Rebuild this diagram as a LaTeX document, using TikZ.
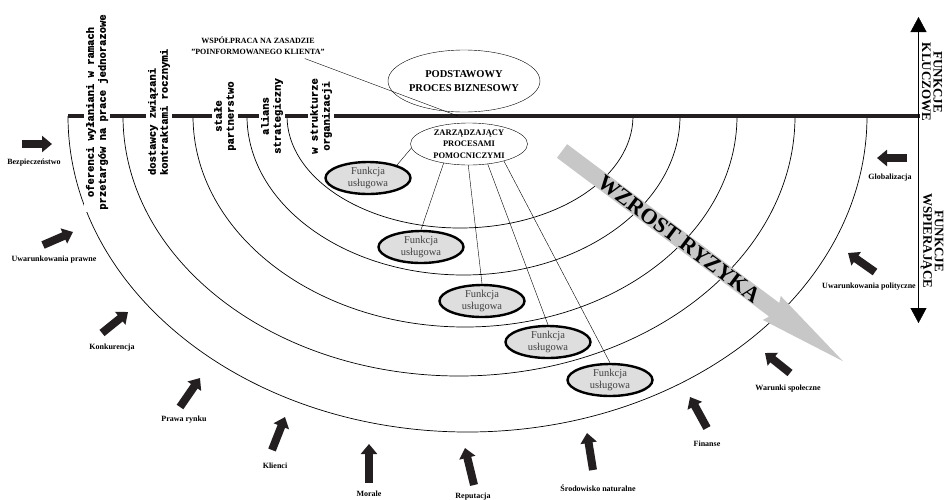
\documentclass[tikz,border=0pt]{standalone}
\usepackage{fontspec}
\setmainfont{Liberation Serif}
\newfontfamily\slabfont{Liberation Mono}[BoldFont={Liberation Mono Bold},BoldFeatures={FakeBold=1.2}]
\usepackage{tikz}
\usetikzlibrary{shapes,arrows,arrows.meta}

\definecolor{riskgray}{gray}{0.78}
\definecolor{servgray}{gray}{0.87}
\definecolor{forceblack}{HTML}{231F20}

\tikzset{
  ringline/.style={black,line width=0.7pt},
  tierlabel/.style={fill=white,rotate=90,inner sep=2.5pt,font=\slabfont\bfseries\fontsize{10.5}{12}\selectfont},
  forcearrow/.style={forceblack,line width=8pt,-{Triangle[length=10pt,width=16pt]}},
  forcelabel/.style={font=\bfseries\fontsize{8}{9}\selectfont,inner sep=1pt},
  servnode/.style={ellipse,draw,line width=2.4pt,fill=servgray,inner sep=0pt,
    minimum width=85pt,minimum height=32pt,align=center,text=black!75,
    font=\fontsize{10.5}{12}\selectfont},
  sidelabel/.style={rotate=-90,align=center,font=\bfseries\fontsize{13}{11.5}\selectfont},
}

\begin{document}
\begin{tikzpicture}[x=1pt,y=-1pt]
  \useasboundingbox (0,0) rectangle (944,499);
  \pgfmathsetmacro\liney{116}

% rings of cooperation
  \foreach \ringL/\ringR/\ringB in {287/633/112,247/680/159,193/737/211,123/795/260,68/867/316}{
    \pgfmathsetmacro\ringA{(\ringR-\ringL)/2}
    \draw[ringline] (\ringL,\liney) arc[start angle=180,end angle=360,x radius=\ringA pt,y radius=\ringB pt];
  }

% main line and axis at right
  \draw[forceblack,line width=3.2pt] (68,\liney) -- (920,\liney);
  \coordinate (axtop) at (918.5,17);
  \coordinate (axbot) at (918.5,323);
  \draw[thin,{Triangle[length=15pt,width=16pt]}-{Triangle[length=15pt,width=16pt]}] (axbot) -- (axtop);
  \node[sidelabel] (keyfun) at (932,82) {FUNKCJE\\KLUCZOWE};
  \node[sidelabel] (suppfun) at (932,241) {FUNKCJE\\WSPIERAJĄCE};

% tiers on the line
  \node[tierlabel,align=center] (tier1) at (97,112) {oferenci wyłaniani w ramach\\przetargów na prace jednorazowe};
  \node[tierlabel,align=left] (tier2) at (159,112) {dostawcy związani\\kontraktami rocznymi};
  \node[tierlabel,align=center] (tier3) at (225,116) {stałe\\partnerstwo};
  \node[tierlabel,align=center] (tier4) at (272,116) {alians\\strategiczny};
  \node[tierlabel,align=center] (tier5) at (321,116) {w strukturze\\organizacji};

% risk arrow
  \begin{scope}[shift={(562,151)},rotate=-36.8]
    \fill[riskgray] (0,8.5) -- (265,8.5) -- (262,15) -- (351,0) -- (262,-15) -- (265,-8.5) -- (0,-8.5) -- cycle;
  \end{scope}
  \node[rotate=-36.8,font=\bfseries\fontsize{22}{22}\selectfont] (risk) at (679,239) {WZROST RYZYKA};

% core process
  \node[draw,ellipse,thin,minimum width=152pt,minimum height=62pt,inner sep=0pt,inner xsep=-6pt,
        align=center,font=\bfseries\fontsize{10.5}{14}\selectfont] (core) at (464,81) {PODSTAWOWY\\PROCES BIZNESOWY};
  \node[align=center,font=\bfseries\fontsize{8}{11}\selectfont] (coop) at (258,46) {WSPÓŁPRACA NA ZASADZIE\\"POINFORMOWANEGO KLIENTA"};
  \coordinate (coopend) at (458,\liney);
  \draw[thin] (coop.-15) -- (coopend);

% support processes
  \node[draw,ellipse,thin,minimum width=117pt,minimum height=42pt,inner sep=0pt,
        align=center,font=\bfseries\fontsize{8.5}{11.5}\selectfont] (mgmt) at (469,144) {ZARZĄDZAJĄCY\\PROCESAMI\\POMOCNICZYMI};
  \node[servnode] (serv1) at (368,178) {Funkcja\\usługowa};
  \node[servnode] (serv2) at (421,247) {Funkcja\\usługowa};
  \node[servnode] (serv3) at (482,301) {Funkcja\\usługowa};
  \node[servnode] (serv4) at (548,342) {Funkcja\\usługowa};
  \node[servnode] (serv5) at (610,380) {Funkcja\\usługowa};
  \draw[thin] (mgmt.184) -- (serv1.24);
  \draw[thin] (mgmt.217) -- (serv2.north);
  \draw[thin] (mgmt.268) -- (serv3.north);
  \draw[thin] (mgmt.313) -- (serv4.north);
  \draw[thin] (mgmt.334) -- (serv5.north);

% outside forces
  \foreach \tx/\ty/\hx/\hy/\lx/\ly/\txt [count=\i] in {
      22/144/52/144/34/163/Bezpieczeństwo,
      43/245/73/232/54/260/Uwarunkowania prawne,
      102/333/128/312/112/348/Konkurencja,
      180/407/200/378/184/420/Prawa rynku,
      272/450/285/417/275/466/Klienci,
      369/483/369/444/369/494/Morale,
      474/485/465/448/473/497/Reputacja,
      593/470/587/433/598/488/Środowisko naturalne,
      707/428/690/397/707/444/Finanse,
      790/373/765/353/788/389/Warunki społeczne,
      875/272/848/253/869/287/Uwarunkowania polityczne,
      907/158/877/158/890/178/Globalizacja}{
    \coordinate (tail\i) at (\tx,\ty);
    \coordinate (tip\i) at (\hx,\hy);
    \draw[forcearrow] (tail\i) -- (tip\i);
    \node[forcelabel] (force\i) at (\lx,\ly) {\txt};
  }

\end{tikzpicture}
\end{document}
